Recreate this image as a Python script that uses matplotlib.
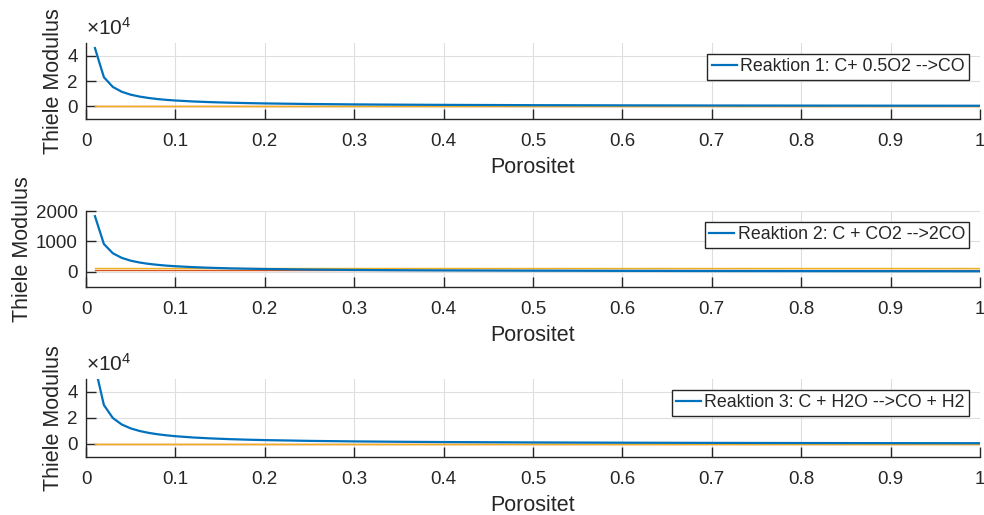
import matplotlib
matplotlib.use("Agg")
import matplotlib.pyplot as plt
from matplotlib.ticker import FuncFormatter

plt.rcParams['font.family'] = ['Liberation Sans', 'DejaVu Sans']
plt.rcParams['mathtext.fontset'] = 'custom'
plt.rcParams['mathtext.rm'] = 'Liberation Sans'
plt.rcParams['mathtext.it'] = 'Liberation Sans'

porositet = [0.01, 0.02, 0.03, 0.04, 0.05, 0.06, 0.07, 0.08, 0.09, 0.10,
             0.12, 0.14, 0.16, 0.18, 0.20, 0.25, 0.30, 0.35, 0.40, 0.50,
             0.60, 0.70, 0.80, 0.90, 1.00]

thiele_r1 = [46000, 23000, 15300, 11500, 9200, 7700, 6600, 5750, 5100, 4600,
             3830, 3290, 2880, 2560, 2300, 1840, 1530, 1310, 1150, 920,
             770, 660, 575, 510, 460]
thiele_r2 = [1830, 915, 610, 458, 366, 305, 261, 229, 203, 183,
             153, 131, 114, 102, 92, 73, 61, 52, 46, 37,
             31, 26, 23, 20, 18]
thiele_r3 = [60000, 30000, 20000, 15000, 12000, 10000, 8570, 7500, 6670, 6000,
             5000, 4290, 3750, 3330, 3000, 2400, 2000, 1710, 1500, 1200,
             1000, 860, 750, 670, 600]

const_x = [0.01, 1.0]
ref_red = [[1, 1], [53, 53], [1, 1]]
ref_yellow = [[1, 1], [110, 110], [1, 1]]

labels = ["Reaktion 1: C+ 0.5O2 -->CO",
          "Reaktion 2: C + CO2 -->2CO",
          "Reaktion 3: C + H2O -->CO + H2"]
ylims = [(-10000, 50000), (-500, 2000), (-10000, 50000)]
yticks = [[0, 20000, 40000], [0, 1000, 2000], [0, 20000, 40000]]
xticks = [0, 0.1, 0.2, 0.3, 0.4, 0.5, 0.6, 0.7, 0.8, 0.9, 1.0]
xticklabels = ["0", "0.1", "0.2", "0.3", "0.4", "0.5", "0.6", "0.7", "0.8", "0.9", "1"]
scaled = [True, False, True]

series = [thiele_r1, thiele_r2, thiele_r3]

fig = plt.figure(figsize=(9.84, 5.15), dpi=100)
W, H = 984.0, 515.0
boxes = [(43, 119), (211, 287), (379, 457)]
left, right = 86, 980

TXT = '#262626'
for i in range(3):
    top, bot = boxes[i]
    ax = fig.add_axes([left / W, 1 - bot / H, (right - left) / W, (bot - top) / H])
    ax.plot(porositet, series[i], color='#0072BD', lw=1.6, label=labels[i], zorder=3)
    ax.plot(const_x, ref_red[i], color='#D95319', lw=1.0, zorder=2)
    ax.plot(const_x, ref_yellow[i], color='#EDB120', lw=1.0, zorder=2.5)
    ax.set_xlim(0, 1)
    ax.set_ylim(*ylims[i])
    ax.set_xticks(xticks)
    ax.set_xticklabels(xticklabels)
    ax.set_yticks(yticks[i])
    if scaled[i]:
        ax.yaxis.set_major_formatter(FuncFormatter(lambda v, p: f"{v/1e4:g}"))
        ax.text(0.0, 1.06, r'$\times\mathregular{10^{4}}$', transform=ax.transAxes,
                fontsize=15, color=TXT, ha='left', va='bottom')
    ax.grid(True, color='#dedede', lw=0.8)
    ax.set_axisbelow(True)
    for s in ['top', 'right']:
        ax.spines[s].set_visible(False)
    for s in ['left', 'bottom']:
        ax.spines[s].set_color(TXT)
        ax.spines[s].set_linewidth(1.0)
    ax.tick_params(direction='in', length=7, width=1.0, colors=TXT, labelsize=13.5)
    ax.tick_params(axis='x', pad=10)
    ax.tick_params(axis='y', pad=6)
    ax.set_xlabel("Porositet", fontsize=15.5, color=TXT, labelpad=5)
    ax.set_ylabel("Thiele Modulus", fontsize=15.5, color=TXT, labelpad=2)
    leg = ax.legend(loc='upper right', fontsize=12.8, fancybox=False, framealpha=1,
                    edgecolor=TXT, handlelength=1.4, handletextpad=0.2,
                    borderpad=0.25, borderaxespad=0.6)
    leg.get_frame().set_linewidth(1.0)
    for t in leg.get_texts():
        t.set_color(TXT)

fig.savefig("out.png", dpi=100)
